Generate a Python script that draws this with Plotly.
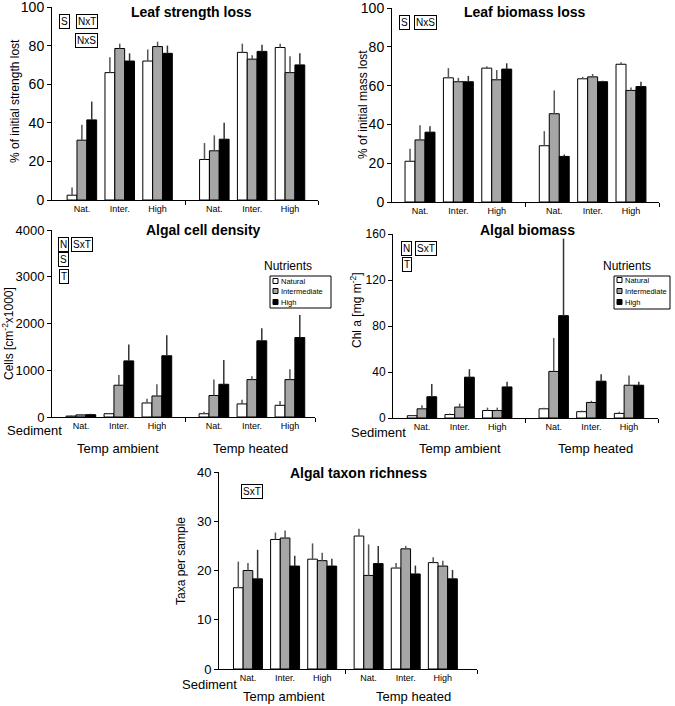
import plotly.graph_objects as go

W, H = 675, 706

# x categories: sediment level within each temperature treatment
sediment_labels = ["Nat.", "Inter.", "High", "Nat.", "Inter.", "High"]
nutrient_names = ["Natural", "Intermediate", "High"]

# Leaf strength loss (% of initial strength lost)
strength_natural = [2.5, 66, 72, 21, 76.5, 79]
strength_natural_top = [6.5, 74, 78, 29.5, 81, 81]
strength_inter = [31, 78.5, 79.5, 25.5, 73, 66]
strength_inter_top = [39, 81, 82, 33.5, 75, 74.5]
strength_high = [41.5, 72, 76, 31.5, 77, 70]
strength_high_top = [51, 76, 80, 40, 80.5, 76]

# Leaf biomass loss (% of initial mass lost)
mass_natural = [21, 64, 69, 29, 63.5, 71]
mass_natural_top = [27.5, 69, 70, 36.5, 64.5, 72]
mass_inter = [32, 62, 63, 45.5, 64.5, 57.5]
mass_inter_top = [39.5, 64, 68, 57.5, 66, 59]
mass_high = [36, 62, 68.5, 23.5, 62, 59.5]
mass_high_top = [39, 65, 71.5, 24.5, 62.5, 62]

# Algal cell density (cells cm-2 x1000)
cells_natural = [20, 70, 300, 70, 280, 250]
cells_natural_top = [30, 80, 390, 110, 370, 340]
cells_inter = [45, 680, 450, 460, 800, 800]
cells_inter_top = [60, 900, 700, 800, 870, 1020]
cells_high = [50, 1200, 1310, 700, 1630, 1700]
cells_high_top = [70, 1550, 1750, 1220, 1900, 2180]

# Algal biomass (Chl a, mg m-2)
chl_natural = [2, 3, 6.5, 8, 5.5, 4]
chl_natural_top = [2.5, 4, 9, 9, 6.5, 5.5]
chl_inter = [8, 9.5, 6.5, 40.5, 13.5, 28.5]
chl_inter_top = [11, 12.5, 9, 69.5, 15, 37]
chl_high = [18.5, 35.5, 27, 89, 32, 28.5]
chl_high_top = [29.5, 42.5, 31.5, 156, 38, 31.5]

# Algal taxon richness (taxa per sample)
taxa_natural = [16.5, 26.3, 22.3, 27, 20.5, 21.6]
taxa_natural_top = [21.8, 27.7, 25.5, 28.5, 21.5, 22.7]
taxa_inter = [20, 26.6, 22, 19, 24.4, 20.9]
taxa_inter_top = [21.5, 28.1, 23.6, 25.3, 25, 22]
taxa_high = [18.3, 20.9, 20.9, 21.4, 19.3, 18.3]
taxa_high_top = [24.2, 23, 22.4, 25, 21, 20.1]

FONT = "Liberation Sans, Arial, sans-serif"
bar_fill = ["white", "#a6a6a6", "black"]
err_col = ["#555555", "#555555", "#333333"]
offsets = [-0.39, -0.13, 0.13]


def px(x):
    return x / W


def py(y):
    return 1 - y / H


# panel geometry in pixels: x-left/right, y-bottom/top, x positions, x range, y range, y ticks
panels = [
    dict(x=(52, 318), y=(200, 7), pos=[0, 1, 2, 3.5, 4.5, 5.5], xr=[-0.79, 6.24],
         yr=[0, 100], yt=[0, 20, 40, 60, 80, 100], mid=2.75, tf=14,
         series=[(strength_natural, strength_natural_top), (strength_inter, strength_inter_top),
                 (strength_high, strength_high_top)]),
    dict(x=(392, 659), y=(202, 8), pos=[0, 1, 2, 3.5, 4.5, 5.5], xr=[-0.73, 6.23],
         yr=[0, 100], yt=[0, 20, 40, 60, 80, 100], mid=2.75, tf=14,
         series=[(mass_natural, mass_natural_top), (mass_inter, mass_inter_top),
                 (mass_high, mass_high_top)]),
    dict(x=(52, 315), y=(417, 230), pos=[0, 1, 2, 3.5, 4.5, 5.5], xr=[-0.76, 6.16],
         yr=[0, 4000], yt=[0, 1000, 2000, 3000, 4000], mid=2.74, tf=13,
         series=[(cells_natural, cells_natural_top), (cells_inter, cells_inter_top),
                 (cells_high, cells_high_top)]),
    dict(x=(393, 658), y=(418, 234), pos=[0, 1, 2, 3.5, 4.5, 5.5], xr=[-0.77, 6.27],
         yr=[0, 160], yt=[0, 40, 80, 120, 160], mid=2.74, tf=12,
         series=[(chl_natural, chl_natural_top), (chl_inter, chl_inter_top),
                 (chl_high, chl_high_top)]),
    dict(x=(219, 477), y=(669, 472), pos=[0, 1, 2, 3.25, 4.25, 5.25], xr=[-0.78, 6.17],
         yr=[0, 40], yt=[0, 10, 20, 30, 40], mid=2.62, tf=13,
         series=[(taxa_natural, taxa_natural_top), (taxa_inter, taxa_inter_top),
                 (taxa_high, taxa_high_top)]),
]

fig = go.Figure()
layout = {}

for i, p in enumerate(panels):
    n = "" if i == 0 else str(i + 1)
    for k, (vals, tops) in enumerate(p["series"]):
        fig.add_trace(go.Bar(
            x=p["pos"], y=vals, width=0.26, offset=offsets[k],
            marker=dict(color=bar_fill[k], line=dict(color="black", width=1)),
            error_y=dict(type="data", symmetric=False,
                         array=[t - v for v, t in zip(vals, tops)],
                         arrayminus=[0] * len(vals), width=0,
                         thickness=1.5, color=err_col[k]),
            name=nutrient_names[k], showlegend=False,
            xaxis="x" + n, yaxis="y" + n,
        ))
    layout["xaxis" + n] = dict(
        domain=[px(p["x"][0]), px(p["x"][1])], range=p["xr"], anchor="y" + n,
        tickmode="array", tickvals=p["pos"], ticktext=sediment_labels, ticks="",
        tickfont=dict(size=9, family=FONT, color="black"),
        showline=True, linecolor="black", linewidth=1, showgrid=False, zeroline=False,
        minor=dict(tickmode="array", tickvals=[p["mid"], p["xr"][1]], ticks="outside",
                   ticklen=4, tickcolor="black", showgrid=False),
        automargin=False, fixedrange=True, ticklabeloverflow="allow",
    )
    layout["yaxis" + n] = dict(
        domain=[py(p["y"][0]), py(p["y"][1])], range=p["yr"], anchor="x" + n,
        tickmode="array", tickvals=p["yt"], ticks="outside", ticklen=4,
        tickcolor="black", tickfont=dict(size=p["tf"], family=FONT, color="black"),
        showline=True, linecolor="black", linewidth=1, showgrid=False, zeroline=False,
        automargin=False, fixedrange=True, ticklabeloverflow="allow",
    )

fig.update_layout(**layout)

ann = []


def text(x, y, s, size=12, bold=False, angle=0, xanchor="center"):
    ann.append(dict(x=px(x), y=py(y), xref="paper", yref="paper", text=("<b>%s</b>" % s) if bold else s,
                    showarrow=False, textangle=angle, xanchor=xanchor, yanchor="middle",
                    font=dict(size=size, family=FONT, color="black")))


def statbox(x, y, s):
    ann.append(dict(x=px(x), y=py(y), xref="paper", yref="paper", text=s, showarrow=False,
                    xanchor="center", yanchor="middle", bordercolor="black", borderwidth=1,
                    borderpad=1, bgcolor="white", font=dict(size=10, family=FONT, color="black")))


# titles
text(191, 12, "Leaf strength loss", 14, bold=True)
text(525, 12, "Leaf biomass loss", 14, bold=True)
text(203, 230, "Algal cell density", 14, bold=True)
text(527, 230, "Algal biomass", 14, bold=True)
text(358, 473, "Algal taxon richness", 14, bold=True)

# y-axis titles
text(15, 101, "% of initial strength lost", 12, angle=-90)
text(363, 105, "% of initial mass lost", 12, angle=-90)
text(8, 334, "Cells [cm<sup>-2</sup>x1000]", 12, angle=-90)
text(356, 311, "Chl a [mg m<sup>-2</sup>]", 12, angle=-90)
text(181, 561, "Taxa per sample", 12, angle=-90)

# sediment / temperature labels
for sx, sy in [(34, 431), (378, 432), (209, 684)]:
    text(sx, sy, "Sediment", 13)
for (ax_, hx_, ty) in [(118, 250, 448), (460, 595, 448), (284, 413, 696)]:
    text(ax_, ty, "Temp ambient", 13)
    text(hx_, ty, "Temp heated", 13)

# significance boxes
for bx, by, s in [(64.5, 22, "S"), (86.5, 22, "NxT"), (86.5, 40.5, "NxS"),
                  (404.5, 23, "S"), (425, 23, "NxS"),
                  (63.5, 244, "N"), (82, 244, "SxT"), (63.5, 259.5, "S"), (63.5, 276.5, "T"),
                  (406.5, 248.5, "N"), (426, 248.5, "SxT"), (406.5, 264.5, "T"),
                  (252, 491, "SxT")]:
    statbox(bx, by, s)

# nutrient legends
shapes = []
for (lx0, lx1, ly0, ly1, head_x, item_y) in [(270, 331, 276, 308, 288, [281, 291, 302]),
                                               (614, 670, 276, 309, 627, [280, 291, 302])]:
    text(head_x, 266, "Nutrients", 12)
    shapes.append(dict(type="rect", xref="paper", yref="paper", x0=px(lx0), x1=px(lx1),
                       y0=py(ly1), y1=py(ly0), line=dict(color="black", width=1)))
    for k, iy in enumerate(item_y):
        shapes.append(dict(type="rect", xref="paper", yref="paper", x0=px(lx0 + 3), x1=px(lx0 + 8),
                           y0=py(iy + 2.5), y1=py(iy - 2.5), fillcolor=bar_fill[k],
                           line=dict(color="black", width=1)))
        text(lx0 + 9, iy, nutrient_names[k], 7.5, xanchor="left")

fig.update_layout(
    width=W, height=H, margin=dict(l=0, r=0, t=0, b=0, autoexpand=False),
    paper_bgcolor="white", plot_bgcolor="white",
    barmode="overlay", annotations=ann, shapes=shapes,
    font=dict(family=FONT, color="black"),
)

# drop the browser's default 8px body margin so the figure fills the window
fig.write_html("out.html", config={"displayModeBar": False},
               post_script="document.body.style.margin = '0';")
